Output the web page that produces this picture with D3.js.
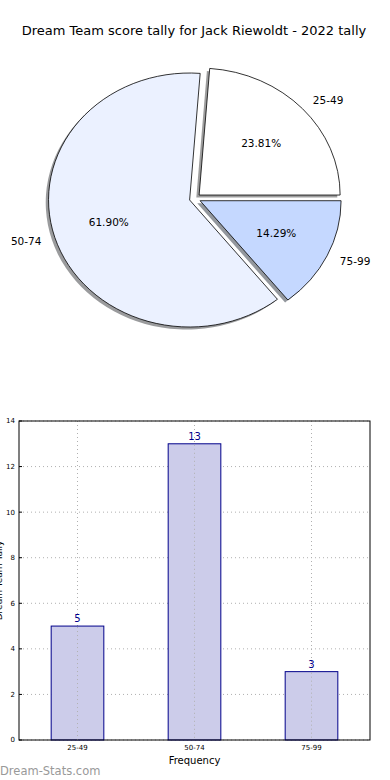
<!DOCTYPE html>
<html><head><meta charset="utf-8">
<script src="https://cdn.jsdelivr.net/npm/d3@7"></script>
<style>body{margin:0;background:#fff}svg{display:block;font-family:"DejaVu Sans",sans-serif}</style>
</head><body><svg id="c" width="390" height="780"></svg>
<script>
const title = "Dream Team score tally for Jack Riewoldt - 2022 tally";
const categories = ["25-49", "50-74", "75-99"];
const counts = [5, 13, 3];
const pieColors = ["#ffffff", "#ebf1ff", "#c5d8ff"];
const yTicks = [0, 2, 4, 6, 8, 10, 12, 14];
const xLabel = "Frequency";
const yLabel = "Dream Team Tally";
const watermark = "Dream-Stats.com";

const svg = d3.select("#c");
svg.append("rect").attr("width",390).attr("height",780).attr("fill","#fff");
svg.append("text").attr("x",194).attr("y",35).attr("text-anchor","middle")
  .attr("font-size",13).attr("fill","#000").text(title);

// ---- Pie ----
const cx = 195, cy = 198.5, rx = 141, ry = 127, explode = 0.04;
const total = d3.sum(counts);
const pie = d3.pie().sort(null).startAngle(Math.PI/2).endAngle(Math.PI/2 - 2*Math.PI);
const arcs = pie(counts);
const arc = d3.arc().innerRadius(0).outerRadius(1);
const gp = svg.append("g").attr("transform",`translate(${cx},${cy})`);
function dirOf(d){ const a=(d.startAngle+d.endAngle)/2; return [Math.sin(a), -Math.cos(a)]; }
// shadows
arcs.forEach((d,i)=>{
  const [dx,dy]=dirOf(d);
  const c=d3.rgb(pieColors[i]);
  const sc=d3.rgb(c.r*0.3,c.g*0.3,c.b*0.3);
  gp.append("path").attr("d",arc(d))
    .attr("transform",`translate(${dx*explode*rx-0.02*rx},${dy*explode*ry+0.02*ry}) scale(${rx},${ry})`)
    .attr("fill",sc).attr("fill-opacity",0.55).attr("stroke","none");
});
arcs.forEach((d,i)=>{
  const [dx,dy]=dirOf(d);
  gp.append("path").attr("d",arc(d))
    .attr("transform",`translate(${dx*explode*rx},${dy*explode*ry}) scale(${rx},${ry})`)
    .attr("fill",pieColors[i]).attr("stroke","#000").attr("stroke-width",0.8)
    .attr("vector-effect","non-scaling-stroke").attr("stroke-linejoin","round");
  const lf=1.1+explode, pf=0.6+explode;
  gp.append("text").attr("x",dx*lf*rx).attr("y",dy*lf*ry).attr("dy","0.35em")
    .attr("text-anchor",dx>0?"start":"end").attr("font-size",10.5).text(categories[i]);
  gp.append("text").attr("x",dx*pf*rx).attr("y",dy*pf*ry).attr("dy","0.35em")
    .attr("text-anchor","middle").attr("font-size",10.5)
    .text((counts[i]/total*100).toFixed(2)+"%");
});

// ---- Bar ----
const L=19,R=370,T=421,B=740;
const x=d3.scaleLinear().domain([-0.5,2.5]).range([L,R]);
const y=d3.scaleLinear().domain([0,14]).range([B,T]);
const gb=svg.append("g");
// grid
gb.selectAll(".gy").data(yTicks).join("line").attr("x1",L).attr("x2",R)
  .attr("y1",d=>y(d)).attr("y2",d=>y(d)).attr("stroke","#b0b0b0").attr("stroke-dasharray","1,3");
gb.selectAll(".gx").data(categories).join("line").attr("x1",(d,i)=>x(i)).attr("x2",(d,i)=>x(i))
  .attr("y1",T).attr("y2",B).attr("stroke","#b0b0b0").attr("stroke-dasharray","1,3");
const bw=0.45;
gb.selectAll(".bar").data(counts).join("rect")
  .attr("x",(d,i)=>x(i-bw/2)).attr("width",x(bw)-x(0))
  .attr("y",d=>y(d)).attr("height",d=>B-y(d))
  .attr("fill","#ccccea").attr("stroke","#00008b").attr("stroke-width",1);
// redraw vertical grid over bars
gb.selectAll(".gx2").data(counts).join("line").attr("x1",(d,i)=>x(i)).attr("x2",(d,i)=>x(i))
  .attr("y1",d=>y(d)+1).attr("y2",B).attr("stroke","#b0b0b0").attr("stroke-dasharray","1,3");
gb.selectAll(".val").data(counts).join("text")
  .attr("x",(d,i)=>x(i)).attr("y",d=>y(d)-4).attr("text-anchor","middle")
  .attr("font-size",10).attr("fill","#00008b").text(d=>d);
gb.append("rect").attr("x",L).attr("y",T).attr("width",R-L).attr("height",B-T)
  .attr("fill","none").attr("stroke","#000").attr("stroke-width",1);
// y ticks
gb.selectAll(".yt").data(yTicks).join("text").attr("x",L-4).attr("y",d=>y(d)).attr("dy","0.35em")
  .attr("text-anchor","end").attr("font-size",7).text(d=>d);
gb.selectAll(".ytk").data(yTicks).join("line").attr("x1",L).attr("x2",L+3)
  .attr("y1",d=>y(d)).attr("y2",d=>y(d)).attr("stroke","#000");
gb.selectAll(".xt").data(categories).join("text").attr("x",(d,i)=>x(i)).attr("y",750)
  .attr("text-anchor","middle").attr("font-size",7).text(d=>d);
gb.append("text").attr("x",(L+R)/2).attr("y",764).attr("text-anchor","middle")
  .attr("font-size",10).text(xLabel);
gb.append("text").attr("transform",`translate(2,${(T+B)/2}) rotate(-90)`)
  .attr("text-anchor","middle").attr("font-size",9).text(yLabel);
svg.append("text").attr("x",0).attr("y",775).attr("font-size",11.5)
  .attr("fill","#999999").text(watermark);
</script></body></html>
